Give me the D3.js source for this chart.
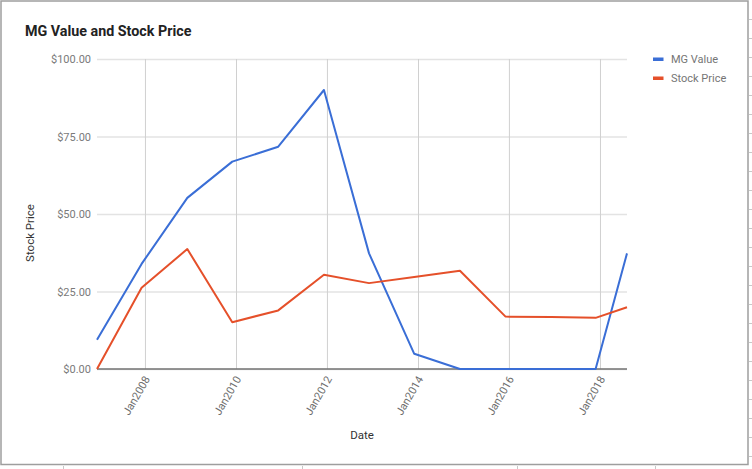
<!DOCTYPE html>
<html>
<head>
<meta charset="utf-8">
<script src="https://cdn.jsdelivr.net/npm/d3@7"></script>
<style>
  html, body { margin: 0; padding: 0; background: #fff; }
  svg { display: block; font-family: Roboto, "Noto Sans", Arial, sans-serif; }
</style>
</head>
<body>
<svg id="chart" width="752" height="469"></svg>
<script>
const dates = ["2006-12-12","2007-12-05","2008-12-06","2009-12-02","2010-12-06","2011-12-08","2012-12-04","2013-12-02","2014-12-04","2015-12-05","2016-12-05","2017-11-27","2018-08-06"];
const mgValue = [9.4, 33.9, 55.2, 66.9, 71.7, 90.0, 37.3, 4.9, 0, 0, 0, 0, 37.3];
const stockPrice = [0, 26.2, 38.7, 15.1, 18.9, 30.4, 27.7, 29.7, 31.7, 16.9, 16.8, 16.5, 19.9];
const yTicks = [0, 25, 50, 75, 100];
const xTickYears = [2008, 2010, 2012, 2014, 2016, 2018];
const seriesNames = ["MG Value", "Stock Price"];
const seriesColors = ["#3a6ed6", "#e5502a"];

const svg = d3.select("#chart");
const parse = d3.timeParse("%Y-%m-%d");
const dts = dates.map(parse);

const pL = 97, pR = 627, pT = 59, pB = 369;
const x = d3.scaleTime().domain([dts[0], dts[dts.length - 1]]).range([pL, pR]);
const y = d3.scaleLinear().domain([0, 100]).range([pB, pT]);

// spreadsheet edge decorations
const deco = svg.append("g").attr("stroke", "#c8c8c8").attr("stroke-width", 1);
d3.range(19, 469, 19).forEach(v => {
  deco.append("line").attr("x1", 749).attr("x2", 752).attr("y1", v + 0.5).attr("y2", v + 0.5);
});
[63, 302, 517, 655].forEach(v => {
  deco.append("line").attr("x1", v + 0.5).attr("x2", v + 0.5).attr("y1", 466).attr("y2", 469);
});

// border
svg.append("rect").attr("x", 1).attr("y", 1).attr("width", 747).attr("height", 463.5)
  .attr("fill", "#fff").attr("stroke", "#9e9e9e").attr("stroke-width", 1.5);

// title
svg.append("text").attr("x", 25).attr("y", 36).text("MG Value and Stock Price")
  .attr("font-size", 14.3).attr("font-weight", "bold").attr("fill", "#222");

// horizontal gridlines
const yAxis = d3.axisLeft(y).tickValues(yTicks).tickSize(-(pR - pL))
  .tickFormat(d => "$" + d.toFixed(2)).tickPadding(6);
const gy = svg.append("g").attr("transform", `translate(${pL},0)`).call(yAxis);
gy.select(".domain").remove();
gy.selectAll(".tick line").attr("stroke", "#e3e3e3").attr("stroke-width", 1.3);
gy.selectAll(".tick text").attr("fill", "#7a7a7a").attr("font-size", 11)
  .attr("font-family", "Roboto, sans-serif");

// vertical gridlines + x labels
const xTicks = xTickYears.map(yr => new Date(yr, 0, 1));
const xAxis = d3.axisBottom(x).tickValues(xTicks).tickSize(-(pB - pT))
  .tickFormat(d3.timeFormat("Jan%Y"));
const gx = svg.append("g").attr("transform", `translate(0,${pB})`).call(xAxis);
gx.select(".domain").remove();
gx.selectAll(".tick line").attr("stroke", "#d0d0d0").attr("stroke-width", 1);
gx.selectAll(".tick text")
  .attr("fill", "#6e6e6e").attr("font-size", 11).attr("font-family", "Roboto, sans-serif")
  .attr("text-anchor", "end").attr("dy", null).attr("y", 0)
  .attr("transform", "translate(5,10) rotate(-60)");

// baseline
svg.append("line").attr("x1", pL).attr("x2", pR).attr("y1", y(0)).attr("y2", y(0))
  .attr("stroke", "#737373").attr("stroke-width", 1.3);

// lines
const line = d3.line().x((d, i) => x(dts[i])).y(d => y(d));
[mgValue, stockPrice].forEach((s, k) => {
  svg.append("path").datum(s).attr("d", line).attr("fill", "none")
    .attr("stroke", seriesColors[k]).attr("stroke-width", 2).attr("stroke-linejoin", "round");
});

// axis titles
svg.append("text").attr("transform", "translate(34,233) rotate(-90)").attr("text-anchor", "middle")
  .text("Stock Price").attr("font-size", 11.5).attr("fill", "#333");
svg.append("text").attr("x", 362).attr("y", 439).attr("text-anchor", "middle")
  .text("Date").attr("font-size", 11.5).attr("fill", "#333");

// legend
seriesNames.forEach((n, k) => {
  const ly = 59 + k * 19;
  svg.append("rect").attr("x", 653).attr("y", ly - 1.5).attr("width", 10.5).attr("height", 3.5)
    .attr("fill", seriesColors[k]);
  svg.append("text").attr("x", 671).attr("y", ly + 4).text(n)
    .attr("font-size", 11).attr("fill", "#757575");
});
</script>
</body>
</html>
